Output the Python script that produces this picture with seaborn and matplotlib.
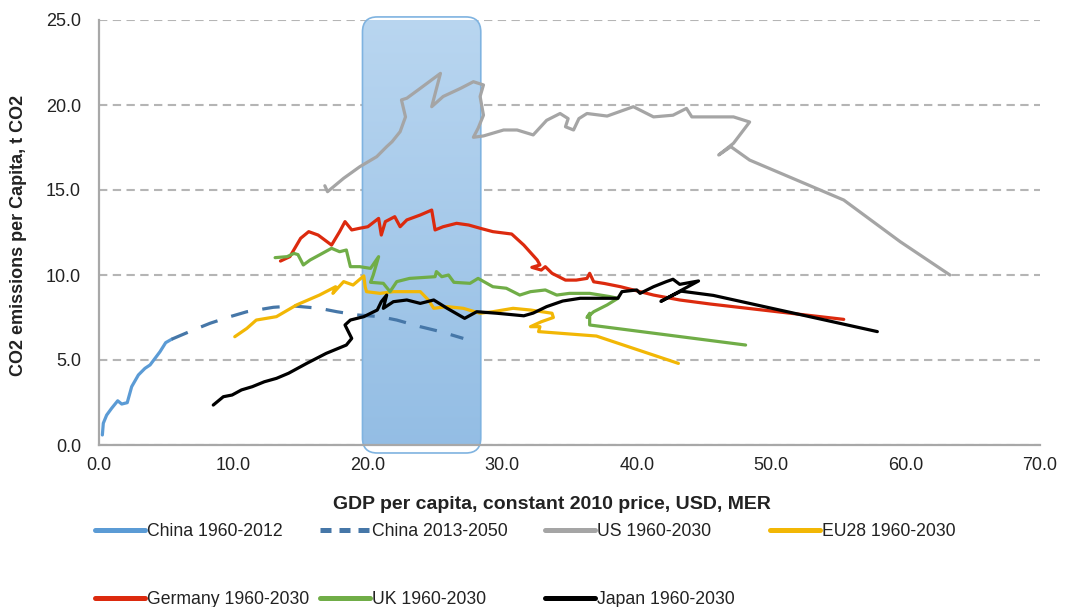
import numpy as np
import matplotlib
matplotlib.use("Agg")
import matplotlib.pyplot as plt
from matplotlib.patches import FancyBboxPatch
from matplotlib.lines import Line2D
from matplotlib.colors import LinearSegmentedColormap
import seaborn as sns

# GDP per capita (k USD) vs CO2 per capita (t)
china_x = [0.25, 0.32, 0.57, 0.94, 1.39, 1.69, 2.1, 2.43, 2.93, 3.42, 3.8, 4.17, 4.54, 4.96, 5.4]
china_y = [0.59, 1.28, 1.76, 2.16, 2.6, 2.41, 2.49, 3.43, 4.12, 4.51, 4.71, 5.1, 5.49, 6.02, 6.22]

china_proj_x = [5.4, 7.0, 8.26, 9.75, 11.0, 12.97, 14.46, 16.4, 17.7, 19.2, 20.9, 22.15, 23.9, 25.4, 27.1]
china_proj_y = [6.22, 6.76, 7.16, 7.55, 7.84, 8.1, 8.18, 8.04, 7.84, 7.65, 7.55, 7.35, 6.96, 6.67, 6.27]

us_x = [16.8, 17.0, 18.2, 19.4, 20.66, 21.4, 21.8, 22.4, 22.8, 22.5, 22.9, 23.9, 25.4, 24.75, 25.6,
        26.9, 27.85, 28.6, 28.35, 28.6, 28.2, 27.85, 28.6, 30.1, 31.1, 32.3, 33.3, 34.3, 34.9, 34.7,
        35.3, 35.7, 36.3, 37.8, 39.75, 41.25, 42.7, 43.7, 44.1, 45.7, 47.2, 48.4, 47.2, 46.1, 47.0,
        48.4, 55.4, 59.6, 63.3]
us_y = [15.25, 14.9, 15.69, 16.37, 16.96, 17.55, 17.84, 18.43, 19.3, 20.3, 20.4, 20.98, 21.86, 19.9, 20.5,
        20.98, 21.37, 21.18, 20.5, 19.4, 18.63, 18.1, 18.18, 18.53, 18.53, 18.24, 19.1, 19.5, 19.2, 18.72,
        18.53, 19.2, 19.5, 19.35, 19.9, 19.3, 19.4, 19.8, 19.3, 19.3, 19.3, 19.0, 17.75, 17.06, 17.55,
        16.76, 14.41, 11.96, 10.0]

eu_x = [10.1, 11.0, 11.7, 13.2, 14.7, 16.4, 17.6, 17.4, 18.2, 18.9, 19.7, 19.8, 19.9, 20.9, 21.9, 23.4,
        23.9, 24.5, 24.9, 25.9, 27.1, 28.35, 29.3, 30.8, 32.1, 33.7, 33.8, 32.9, 32.1, 32.8, 32.7, 37.0, 43.1]
eu_y = [6.37, 6.86, 7.35, 7.55, 8.24, 8.82, 9.31, 8.92, 9.61, 9.41, 9.95, 9.31, 9.02, 8.92, 9.02, 9.02,
        9.02, 8.53, 8.04, 8.14, 8.04, 7.75, 7.84, 8.04, 7.94, 7.75, 7.5, 7.25, 6.96, 6.96, 6.67, 6.41, 4.8]

de_x = [13.5, 14.2, 15.0, 15.6, 16.3, 17.3, 17.9, 18.3, 18.8, 19.4, 20.0, 20.8, 21.0, 21.3, 22.0, 22.4,
        22.9, 23.9, 24.75, 25.0, 25.6, 26.6, 27.5, 28.35, 29.3, 30.7, 31.6, 32.6, 32.8, 32.2, 32.9, 33.2,
        33.7, 34.7, 35.5, 36.3, 36.5, 36.8, 37.6, 38.8, 39.75, 41.25, 43.2, 45.5, 55.4]
de_y = [10.82, 11.08, 12.16, 12.55, 12.35, 11.76, 12.55, 13.14, 12.65, 12.75, 12.84, 13.33, 12.35, 13.14,
        13.43, 12.84, 13.24, 13.53, 13.82, 12.65, 12.84, 13.04, 12.94, 12.75, 12.55, 12.41, 11.76, 10.88,
        10.59, 10.45, 10.29, 10.49, 10.1, 9.7, 9.7, 9.8, 10.1, 9.6, 9.5, 9.31, 9.12, 8.82, 8.53, 8.29, 7.39]

uk_x = [13.1, 14.0, 14.5, 14.8, 15.2, 15.7, 16.4, 17.3, 17.9, 18.4, 18.7, 19.4, 20.2, 20.8, 20.4, 20.2,
        21.15, 21.65, 22.15, 23.1, 25.0, 25.1, 25.5, 26.0, 26.4, 27.6, 28.2, 29.3, 30.3, 31.3, 32.1, 33.2,
        34.05, 35.0, 36.5, 38.0, 38.6, 37.8, 36.8, 36.3, 36.5, 36.5, 48.1]
uk_y = [11.02, 11.08, 11.27, 11.2, 10.59, 10.88, 11.18, 11.57, 11.37, 11.47, 10.49, 10.49, 10.39, 11.08,
        10.0, 9.57, 9.51, 9.02, 9.61, 9.8, 9.9, 10.2, 9.9, 10.0, 9.57, 9.51, 9.8, 9.31, 9.22, 8.82, 9.02,
        9.12, 8.82, 8.92, 8.92, 8.73, 8.63, 8.24, 7.84, 7.5, 7.75, 7.06, 5.88]

jp_x = [8.5, 9.25, 9.9, 10.6, 11.4, 12.3, 13.2, 14.1, 15.45, 16.9, 18.4, 18.8, 18.3, 18.7, 19.7, 20.7,
        21.0, 21.4, 21.15, 21.9, 22.9, 23.9, 24.9, 25.9, 27.2, 28.1, 29.6, 31.6, 32.3, 33.3, 34.5, 35.8,
        37.3, 38.6, 38.9, 40.0, 40.25, 41.25, 42.2, 42.7, 43.2, 44.6, 41.8, 43.3, 45.7, 57.9]
jp_y = [2.35, 2.84, 2.94, 3.24, 3.43, 3.72, 3.92, 4.22, 4.8, 5.39, 5.88, 6.27, 7.06, 7.35, 7.55, 7.94,
        8.43, 8.82, 8.04, 8.43, 8.53, 8.33, 8.53, 8.04, 7.45, 7.84, 7.75, 7.6, 7.76, 8.14, 8.47, 8.63,
        8.63, 8.63, 9.02, 9.12, 8.92, 9.31, 9.61, 9.75, 9.45, 9.65, 8.45, 9.05, 8.8, 6.67]

labels = ["China 1960-2012", "China 2013-2050", "US 1960-2030", "EU28 1960-2030",
          "Germany 1960-2030", "UK 1960-2030", "Japan 1960-2030"]
colors = ["#5b9bd5", "#4677a8", "#a5a5a5", "#f2b705", "#dc2a0e", "#70ad47", "#000000"]
xticks = [0, 10, 20, 30, 40, 50, 60, 70]
yticks = [0, 5, 10, 15, 20, 25]
highlight = (19.6, 28.4)  # shaded GDP band

sns.set_style("white")
narrow = ["Liberation Sans Narrow", "Liberation Sans", "DejaVu Sans"]
plt.rcParams["font.family"] = narrow

fig = plt.figure(figsize=(10.68, 6.07), dpi=100)
ax = fig.add_axes([99 / 1068, 1 - 445 / 607, 941 / 1068, 425 / 607])

series = [(china_x, china_y), (china_proj_x, china_proj_y), (us_x, us_y), (eu_x, eu_y),
          (de_x, de_y), (uk_x, uk_y), (jp_x, jp_y)]
for i, ((xs, ys), lab, col) in enumerate(zip(series, labels, colors)):
    ls = (0, (5.5, 4.5)) if i == 1 else "-"
    sns.lineplot(x=xs, y=ys, sort=False, estimator=None, color=col, lw=2.3,
                 linestyle=ls, ax=ax, zorder=3 + i, legend=False)

# rounded highlight box with a soft vertical gradient
box = FancyBboxPatch((highlight[0], -0.47), highlight[1] - highlight[0], 25.65,
                     boxstyle="round,pad=0,rounding_size=1.1", mutation_aspect=0.8,
                     facecolor="none", edgecolor="#7fb3e0", lw=1.2, zorder=2.1, clip_on=False)
ax.add_patch(box)
cmap = LinearSegmentedColormap.from_list("band", ["#93bde4", "#b9d6f0"])
grad = np.linspace(0, 1, 256).reshape(-1, 1)
ax.imshow(grad, extent=(highlight[0], highlight[1], -0.47, 25.18), origin="lower",
          aspect="auto", cmap=cmap, clip_path=box, zorder=2, interpolation="bicubic")

ax.set_xlim(0, 70)
ax.set_ylim(0, 25)
ax.set_xticks(xticks)
ax.set_yticks(yticks)
ax.set_xticklabels([f"{v:.1f}" for v in xticks])
ax.set_yticklabels([f"{v:.1f}" for v in yticks])
ax.tick_params(length=0, labelsize=13, labelcolor="#222222")
ax.tick_params(axis="y", pad=13)
ax.tick_params(axis="x", pad=9)

ax.yaxis.grid(True, color="#b5b5b5", lw=1.5, linestyle=(0, (4, 2.6)), zorder=1)
ax.set_axisbelow(True)
for side in ["top", "right"]:
    ax.spines[side].set_visible(False)
for side in ["left", "bottom"]:
    ax.spines[side].set_color("#a8a8a8")
    ax.spines[side].set_linewidth(1.6)

ax.set_xlabel("GDP per capita, constant 2010 price, USD, MER", fontsize=14,
              fontweight="bold", color="#222222")
ax.xaxis.set_label_coords(0.481, -0.141)
ax.xaxis.label.set_va("center")
ax.set_ylabel("CO2 emissions per Capita, t CO2", fontsize=13, fontweight="bold",
              color="#222222", family=["Liberation Sans", "DejaVu Sans"])
ax.yaxis.set_label_coords(-0.086, 0.494)
ax.yaxis.label.set_va("center")

# legend entries laid out on a fixed grid, second row cut by the figure edge
col_x = [95, 320, 545, 770]
row_y = [532, 600]
for i, (lab, col) in enumerate(zip(labels, colors)):
    ls = (0, (2.2, 1.6)) if i == 1 else "-"
    h = Line2D([], [], color=col, lw=3.6, linestyle=ls)
    px = col_x[i % 4]
    py = row_y[i // 4]
    fig.legend(handles=[h], labels=[lab], loc="center left",
               bbox_to_anchor=(px / 1068, 1 - py / 607), frameon=False,
               borderpad=0, borderaxespad=0, handlelength=2.85, handletextpad=0.12,
               prop={"size": 12.7, "family": narrow}, labelcolor="#222222")

fig.savefig("out.png", dpi=100)
